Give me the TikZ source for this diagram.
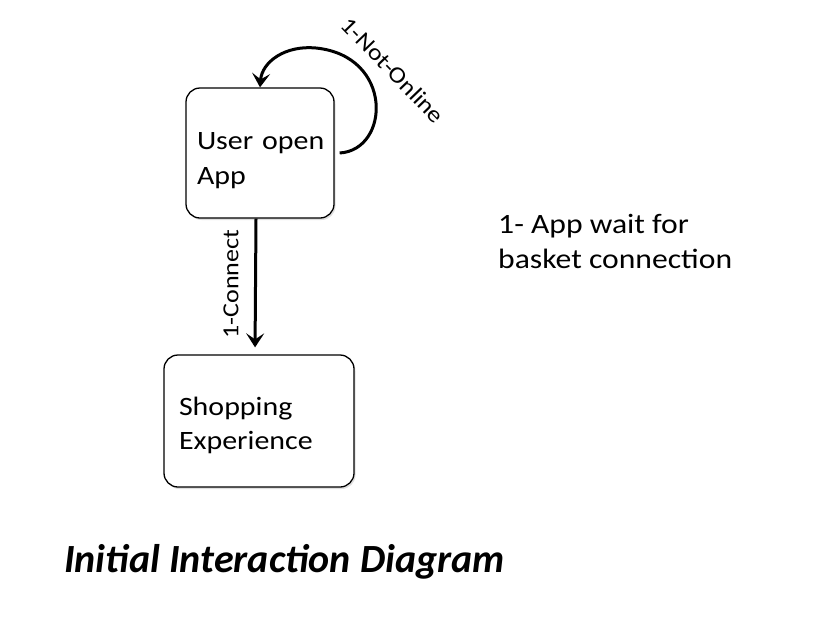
\documentclass[tikz,border=0pt]{standalone}
\usepackage{fontspec}
\setmainfont{Carlito}
\newfontfamily\widefont[FakeStretch=1.13]{Carlito}
\usetikzlibrary{arrows.meta,shadows}
\begin{document}
\begin{tikzpicture}[x=1pt,y=-1pt,
  box/.style={draw=black,line width=1.3pt,rounded corners=14pt,fill=white,
    drop shadow={opacity=0.25,shadow xshift=1.5pt,shadow yshift=-2pt},
    align=left,font=\widefont\fontsize{26.5}{34.5}\selectfont,inner ysep=0pt},
  conn/.style={line width=3pt,-{Stealth[length=14pt,width=18pt,inset=6pt]}},
  lbl/.style={font=\widefont\fontsize{23}{28}\selectfont,inner sep=0pt},
  note/.style={font=\widefont\fontsize{28}{35}\selectfont,align=left,inner sep=0pt}]
\useasboundingbox (0,0) rectangle (818,622);
\node[box,minimum width=148pt,minimum height=130pt,text width=126pt,inner xsep=11pt] (app) at (260,153) {\rule{0pt}{32pt}\mbox{User open}\\App};
\node[box,minimum width=190pt,minimum height=132pt,text width=160pt,inner xsep=15pt] (shop) at (259,421) {\rule{0pt}{27pt}Shopping\\Experience};
\draw[conn,shorten >=7pt] ([xshift=-4pt]app.south) -- ([xshift=-4pt]shop.north);
\node[lbl,rotate=90] (lc) at (231,284) {1-Connect};
\coordinate (ls) at ([xshift=5pt]app.east);
\coordinate (lt) at (316,48);
\draw[conn] (ls) .. controls (390,150) and (394,56) .. (lt)
  .. controls (285,45) and (262,62) .. (app.north);
\node[lbl,rotate=-46] (ln) at (393,70) {1-Not-Online};
\node[note,anchor=base west] (nt) at (498,268) {1- App wait for\\basket connection};
\node[font=\fontsize{40}{44}\selectfont\bfseries\itshape,anchor=base west,inner sep=0pt] (title) at (64,572) {Initial Interaction Diagram};
\end{tikzpicture}
\end{document}
